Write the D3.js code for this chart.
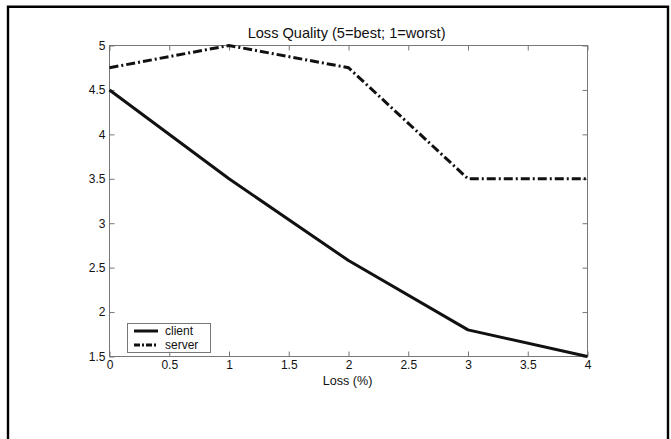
<!DOCTYPE html>
<html>
<head>
<meta charset="utf-8">
<script src="https://cdn.jsdelivr.net/npm/d3@7"></script>
<style>
  html, body { margin: 0; padding: 0; background: #fff; }
  svg { display: block; font-family: "Liberation Sans", Arial, sans-serif; }
</style>
</head>
<body>
<svg id="chart" width="671" height="439"></svg>
<script>
const lossX = [0, 1, 2, 3, 4];
const clientValues = [4.5, 3.5, 2.58, 1.8, 1.5];
const serverValues = [4.75, 5, 4.75, 3.5, 3.5];
const xTicks = [0, 0.5, 1, 1.5, 2, 2.5, 3, 3.5, 4];
const yTicks = [1.5, 2, 2.5, 3, 3.5, 4, 4.5, 5];
const seriesNames = ["client", "server"];
const titleText = "Loss Quality (5=best; 1=worst)";
const xLabelText = "Loss (%)";

(function () {
const svg = d3.select("#chart");
const pLeft = 109.5, pRight = 587.5, pTop = 45.5, pBottom = 356.5;

svg.append("path")
  .attr("d", `M8,440 L8,6.7 L668,6.7 L668,440`)
  .attr("fill", "none").attr("stroke", "#000").attr("stroke-width", 2.4);

const x = d3.scaleLinear().domain([0, 4]).range([pLeft, pRight]);
const y = d3.scaleLinear().domain([1.5, 5]).range([pBottom, pTop]);

const axisColor = "#777";

svg.append("rect").attr("x", pLeft).attr("y", pTop)
  .attr("width", pRight - pLeft).attr("height", pBottom - pTop)
  .attr("fill", "none").attr("stroke", axisColor).attr("stroke-width", 1);

function styleAxis(g) {
  g.select(".domain").remove();
  g.selectAll(".tick line").attr("stroke", axisColor);
  g.selectAll(".tick text").attr("fill", "#111").attr("font-size", 12)
    .attr("font-family", "Liberation Sans, Arial, sans-serif");
}

svg.append("g").attr("transform", `translate(0,${pBottom})`)
  .call(d3.axisBottom(x).tickValues(xTicks).tickSizeInner(-5).tickSizeOuter(0).tickPadding(4).tickFormat(d3.format("")))
  .call(styleAxis);
svg.append("g").attr("transform", `translate(0,${pTop})`)
  .call(d3.axisTop(x).tickValues(xTicks).tickSizeInner(-5).tickSizeOuter(0).tickFormat(""))
  .call(styleAxis);
svg.append("g").attr("transform", `translate(${pLeft},0)`)
  .call(d3.axisLeft(y).tickValues(yTicks).tickSizeInner(-5).tickSizeOuter(0).tickPadding(4).tickFormat(d3.format("")))
  .call(styleAxis);
svg.append("g").attr("transform", `translate(${pRight},0)`)
  .call(d3.axisRight(y).tickValues(yTicks).tickSizeInner(-5).tickSizeOuter(0).tickFormat(""))
  .call(styleAxis);

svg.append("text").attr("x", 346.6).attr("y", 37.5)
  .attr("text-anchor", "middle").attr("font-size", 14.6).attr("fill", "#111").text(titleText);
svg.append("text").attr("x", 347.5).attr("y", 384.5)
  .attr("text-anchor", "middle").attr("font-size", 12.6).attr("fill", "#111").text(xLabelText);

const line = d3.line().x((d, i) => x(lossX[i])).y(d => y(d));

svg.append("path").datum(clientValues).attr("d", line)
  .attr("fill", "none").attr("stroke", "#111").attr("stroke-width", 3)
  .attr("stroke-linejoin", "round");
svg.append("path").datum(serverValues).attr("d", line)
  .attr("fill", "none").attr("stroke", "#111").attr("stroke-width", 3)
  .attr("stroke-dasharray", "9,3,2,3");

const lg = svg.append("g");
lg.append("rect").attr("x", 127.5).attr("y", 323.5).attr("width", 83).attr("height", 29)
  .attr("fill", "#fff").attr("stroke", axisColor).attr("stroke-width", 1);
const rowsY = [331, 345];
seriesNames.forEach((name, i) => {
  lg.append("line").attr("x1", 134).attr("x2", 158).attr("y1", rowsY[i]).attr("y2", rowsY[i])
    .attr("stroke", "#111").attr("stroke-width", 3)
    .attr("stroke-dasharray", i === 1 ? "6,2,2,2" : null);
  lg.append("text").attr("x", 165).attr("y", rowsY[i] + 4.2)
    .attr("font-size", 12).attr("textLength", null).attr("fill", "#111").text(name);
});
})();
</script>
</body>
</html>
